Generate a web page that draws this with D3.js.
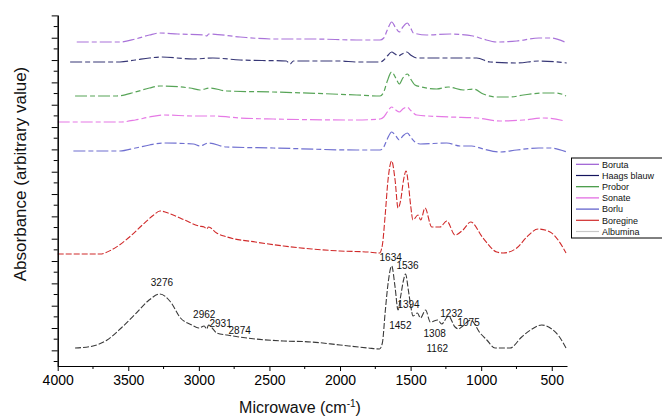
<!DOCTYPE html>
<html><head><meta charset="utf-8">
<script src="https://cdn.jsdelivr.net/npm/d3@7"></script>
<style>
html,body{margin:0;padding:0;background:#fff;}
svg{display:block;font-family:"Liberation Sans",Arial,sans-serif;}
</style></head>
<body>
<svg id="chart" width="662" height="420"></svg>
<script>
// ---- data (wavenumber, absorbance in arbitrary units) ----
const seriesNames = ["Boruta","Haags blauw","Probor","Sonate","Borlu","Boregine","Albumina"];
const lineColors  = ["#9a5ad2","#14145e","#3a943a","#e062e0","#5656c8","#d02a2a","#3a3a3a"];
const legendColors= ["#9a5ad2","#14145e","#3a943a","#e062e0","#5656c8","#d02a2a","#c8c8c8"];

const boruta = [[3865,324],[3559,324],[3450,327],[3350,331],[3280,333],[3150,332],[2960,331],[2944,330],[2930,332],[2708,329],[2475,327],[2191,327],[1882,326],[1716,326],[1690,328],[1665,336],[1634,344],[1605,338],[1580,334],[1555,339],[1523,343],[1500,338],[1480,333],[1386,331],[1220,332],[1058,330],[987,327],[890,324],[748,325],[591,328],[510,328],[407,324]];
const haags  = [[3912,304],[3559,304],[3450,306],[3350,308],[3270,309],[3041,307],[2900,308],[2708,306],[2380,305],[2354,302],[2330,305],[2000,305],[1882,304],[1716,304],[1690,306],[1665,310],[1634,314],[1610,312],[1587,310],[1560,312],[1527,314],[1500,311],[1456,308],[1220,308],[1031,308],[937,304],[748,303],[591,305],[394,303]];
const probor = [[3877,270],[3582,270],[3450,274],[3350,278],[3276,280],[3063,278],[2992,276],[2921,278],[2803,275],[2475,274],[1882,271],[1716,270],[1690,274],[1665,285],[1634,294],[1605,288],[1580,282],[1555,288],[1523,292],[1495,286],[1469,281],[1421,279],[1315,277],[1233,279],[1126,276],[1055,277],[985,272],[890,269],[795,269],[701,271],[559,273],[465,273],[399,270]];
const sonate = [[4000,244],[3559,244],[3450,246],[3350,249],[3252,251],[3039,250],[2898,250],[2708,248],[2472,247],[1882,246],[1716,247],[1690,249],[1665,254],[1634,259],[1605,256],[1580,254],[1555,257],[1527,259],[1495,255],[1456,251],[1220,249],[1031,248],[866,245],[701,246],[559,248],[407,245]];
const borlu  = [[3889,215],[3559,215],[3450,218],[3350,221],[3252,223],[3039,222],[2992,220],[2933,223],[2803,219],[2472,218],[1882,216],[1716,216],[1690,219],[1665,227],[1634,234],[1605,230],[1580,226],[1555,230],[1523,233],[1495,228],[1469,224],[1433,222],[1244,223],[1150,220],[1067,220],[985,217],[866,214],[748,216],[591,218],[510,218],[394,214]];
const boregine = [[4000,112],[3700,112],[3620,116],[3500,128],[3400,141],[3320,151],[3276,155],[3200,152],[3100,146],[3000,140],[2962,139],[2945,137],[2931,139],[2874,133],[2800,129],[2600,124],[2400,120],[2200,117],[2000,115],[1800,114],[1720,113],[1700,121],[1680,151],[1660,186],[1634,205],[1610,186],[1589,158],[1570,166],[1550,186],[1532,195],[1515,181],[1500,161],[1483,146],[1448,151],[1428,146],[1398,158],[1350,139],[1291,139],[1244,145],[1185,131],[1129,136],[1074,144],[987,128],[890,114],[845,113],[748,118],[677,129],[597,137],[512,134],[455,126],[399,113]];
const albumina = [[3877,18],[3750,20],[3650,26],[3550,38],[3450,52],[3360,65],[3276,72],[3200,64],[3130,48],[3050,41],[3000,38],[2962,40],[2945,37],[2931,41],[2900,37],[2874,33],[2800,31],[2600,27],[2400,25],[2200,24],[2000,21],[1800,18],[1720,17],[1700,23],[1680,54],[1660,82],[1634,100],[1610,79],[1589,56],[1570,70],[1550,86],[1536,92],[1515,75],[1500,61],[1483,50],[1452,53],[1430,48],[1394,56],[1360,44],[1308,46],[1280,42],[1232,50],[1185,39],[1162,37],[1130,40],[1075,46],[1008,33],[960,26],[902,18],[796,18],[713,29],[650,36],[571,41],[500,37],[450,30],[399,18]];
const seriesData = [boruta, haags, probor, sonate, borlu, boregine, albumina];

const xTickValues = [4000,3500,3000,2500,2000,1500,1000,500];
const xMinorTicks = [3750,3250,2750,2250,1750,1250,750];
const peakLabels = ["3276","2962","2931","2874","1634","1536","1452","1394","1308","1232","1162","1075"];
// label placement offsets (layout only): [dx, baseline y in px]
const peakLabelPos = [[2,286],[0,318],[12,327],[23,334],[-1,261],[2,269],[-17,329],[-17,308],[-3,337],[3,317],[-21,352],[-2,326]];

// ---- layout ----
const svg = d3.select("#chart");
const x = d3.scaleLinear().domain([4000, 392]).range([57.7, 567]);
const y = d3.scaleLinear().domain([0, 351]).range([366, 15]);

const line = d3.line().x(d => x(d[0])).y(d => y(d[1])).curve(d3.curveMonotoneX);

seriesData.forEach((s, i) => {
  svg.append("path")
    .datum(s)
    .attr("d", line)
    .attr("fill", "none")
    .attr("stroke", lineColors[i])
    .attr("stroke-width", i >= 5 ? 1.1 : 1.2)
    .attr("stroke-dasharray", i >= 5 ? "6,2" : "12,3,5,3")
    .attr("opacity", i >= 5 ? 1 : 0.85);
});

// axes
const xAxis = svg.append("g").attr("transform", "translate(0,366)");
xAxis.call(d3.axisBottom(x).tickValues(xTickValues).tickSize(5).tickSizeOuter(0).tickFormat(d3.format("d")));
xAxis.append("g").selectAll("line").data(xMinorTicks).join("line")
  .attr("x1", d => x(d)).attr("x2", d => x(d)).attr("y1", 0).attr("y2", 3)
  .attr("stroke", "#000");
xAxis.selectAll(".tick text").attr("font-size", 14).attr("dy", "0.8em").attr("font-family", "Liberation Sans, Arial, sans-serif");
xAxis.select(".domain").attr("stroke-width", 1.2);

const yMajor = d3.range(0, 16).map(k => 350.6 - k * 22.33);
const yMinor = d3.range(0, 16).map(k => 350.6 - k * 22.33 - 11.165);
const yAxis = svg.append("g").attr("transform", "translate(57.7,0)");
yAxis.call(d3.axisLeft(y).tickValues(yMajor).tickSize(6).tickSizeOuter(0).tickFormat(""));
yAxis.append("g").selectAll("line").data(yMinor).join("line")
  .attr("x1", 0).attr("x2", -4).attr("y1", d => y(d)).attr("y2", d => y(d))
  .attr("stroke", "#000");
yAxis.select(".domain").attr("stroke-width", 1.5);

// titles
svg.append("text").attr("x", 300).attr("y", 413).attr("text-anchor", "middle")
  .attr("font-size", 16).attr("fill", "#111")
  .html('Microwave (cm<tspan dy="-6" font-size="10">-1</tspan><tspan dy="6">)</tspan>');
svg.append("text").attr("transform", "translate(26,174) rotate(-90)").attr("text-anchor", "middle")
  .attr("font-size", 17).attr("fill", "#111").text("Absorbance (arbitrary value)");

// peak labels
peakLabels.forEach((t, i) => {
  svg.append("text").attr("x", x(+t) + peakLabelPos[i][0]).attr("y", peakLabelPos[i][1])
    .attr("text-anchor", "middle").attr("font-size", 10).attr("fill", "#111").text(t);
});

// legend
const lg = svg.append("g");
lg.append("rect").attr("x", 571.5).attr("y", 158).attr("width", 100).attr("height", 80)
  .attr("fill", "#fff").attr("stroke", "#000").attr("stroke-width", 1);
seriesNames.forEach((n, i) => {
  const yy = 164.3 + i * 11.2;
  lg.append("line").attr("x1", 576).attr("x2", 599).attr("y1", yy).attr("y2", yy)
    .attr("stroke", legendColors[i]).attr("stroke-width", 1.2);
  lg.append("text").attr("x", 602).attr("y", yy + 3.2).attr("font-size", 9).attr("fill", "#111").text(n);
});
</script>
</body></html>
